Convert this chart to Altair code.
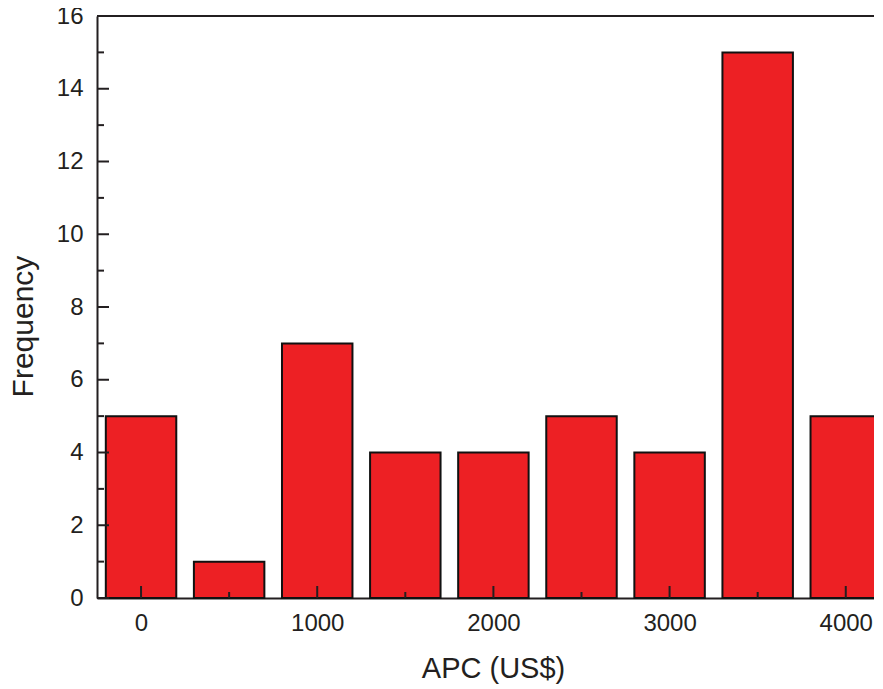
import altair as alt
import pandas as pd

# data
centers = [0, 500, 1000, 1500, 2000, 2500, 3000, 3500, 4000]
counts = [5, 1, 7, 4, 4, 5, 4, 15, 5]
bin_half = 200
x_major = [0, 1000, 2000, 3000, 4000]
x_minor = [500, 1500, 2500, 3500]
y_major = [0, 2, 4, 6, 8, 10, 12, 14, 16]
y_minor = [1, 3, 5, 7, 9, 11, 13, 15]

W, H = 784, 582
FONT = "Liberation Sans"
INK = "#231f20"

bars_df = pd.DataFrame({"c": centers, "y": counts})

xscale = alt.Scale(domain=[-250, 4200], nice=False, zero=False)
yscale = alt.Scale(domain=[0, 16], nice=False)

xaxis = alt.Axis(title="APC (US$)", values=x_major, ticks=False, grid=False,
                 domainColor=INK, domainWidth=2, labelFont=FONT, labelFontSize=24,
                 labelColor=INK, labelPadding=13, titleFont=FONT, titleFontSize=29,
                 titleFontWeight="normal", titleColor=INK, titlePadding=19,
                 titleX=396, format="d", labelFlush=False)
yaxis = alt.Axis(title="Frequency", values=y_major, ticks=False, grid=False,
                 domainColor=INK, domainWidth=2, labelFont=FONT, labelFontSize=24,
                 labelColor=INK, labelPadding=14, titleFont=FONT, titleFontSize=30,
                 titleFontWeight="normal", titleColor=INK, titlePadding=18,
                 titleY=310, format="d", labelFlush=False)

bars = alt.Chart(bars_df).transform_calculate(
    x=f"datum.c - {bin_half}", x2=f"datum.c + {bin_half}", y0="0"
).mark_bar(color="#ED2024", stroke="#111111", strokeWidth=2).encode(
    x=alt.X("x:Q", scale=xscale, axis=xaxis),
    x2="x2:Q",
    y=alt.Y("y:Q", scale=yscale, axis=yaxis),
    y2="y0:Q",
)

def xticks(vals, length):
    return alt.Chart(pd.DataFrame({"x": vals})).mark_rule(color=INK, strokeWidth=2).encode(
        x=alt.X("x:Q", scale=xscale, axis=xaxis),
        y=alt.value(H), y2=alt.value(H - length),
    )

def yticks(vals, length):
    return alt.Chart(pd.DataFrame({"y": vals})).mark_rule(color=INK, strokeWidth=2).encode(
        y=alt.Y("y:Q", scale=yscale, axis=yaxis),
        x=alt.value(0), x2=alt.value(length),
    )

top = alt.Chart(pd.DataFrame({"y": [16]})).mark_rule(color=INK, strokeWidth=2).encode(
    y=alt.Y("y:Q", scale=yscale, axis=yaxis),
    x=alt.value(0), x2=alt.value(W),
)

chart = alt.layer(
    bars, xticks(x_major, 12), xticks(x_minor, 6), yticks(y_major, 12), yticks(y_minor, 7), top
).properties(
    width=W, height=H,
    autosize=alt.AutoSizeParams(type="none"),
    padding={"left": 89, "top": 8, "right": -7, "bottom": 86},
).configure_view(stroke=None).configure(background="white")

chart.save("out.html", embed_options={"renderer": "svg", "actions": False})
